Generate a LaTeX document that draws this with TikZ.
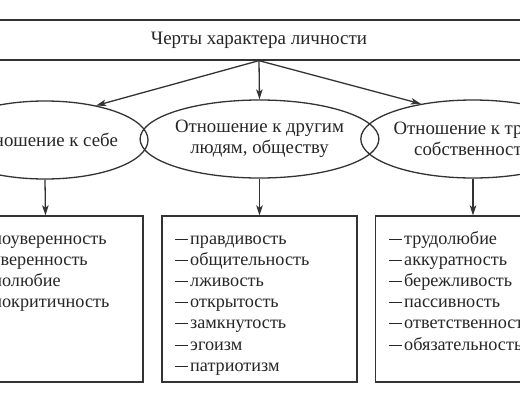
\documentclass[tikz,border=0pt]{standalone}
\usepackage{fontspec}
\setmainfont{Liberation Serif}
\usetikzlibrary{shapes.geometric,arrows.meta}
\definecolor{ink}{HTML}{333333}
\definecolor{txt}{HTML}{262626}
\newcommand\dsh{\rule[0.25em]{12.5pt}{0.9pt}\hspace{2.5pt}}
\tikzset{
  ln/.style={draw=ink, line width=1.3pt},
  arr/.style={ln, -{Stealth[length=10pt,width=6.5pt,inset=2.5pt]}},
  ell/.style={ln, ellipse, minimum width=196pt, minimum height=78pt, inner sep=0pt,
     align=center, font=\fontsize{18.8}{21}\selectfont, text=txt},
  boxx/.style={ln, rectangle, minimum width=195pt, minimum height=166pt, inner sep=0pt},
  item/.style={anchor=base west, inner sep=0pt, font=\fontsize{18.2}{20}\selectfont, text=txt},
}
\begin{document}
\begin{tikzpicture}[x=1pt,y=-1pt]
\useasboundingbox (0,0) rectangle (520,400);
\clip (0,0) rectangle (520,400);
\fill[white] (0,0) rectangle (520,400);
\node[ln, rectangle, minimum width=680pt, minimum height=40pt, inner sep=0pt,
      font=\fontsize{19}{22}\selectfont, text=txt] (top) at (259,40) {Черты характера личности};
\node[ell] (e1) at (45,140) {Отношение к себе};
\node[ell] (e2) at (259.5,139) {Отношение к другим\\людям, обществу};
\node[ell] (e3) at (473,139) {Отношение к труду,\\собственности};
\node[boxx] (b1) at (45.5,299) {};
\node[boxx] (b2) at (259.5,299) {};
\node[boxx] (b3) at (473,299) {};
\draw[arr] (top.south) -- (e1.34);
\draw[arr] (top.south) -- (e2.north);
\draw[arr] (top.south) -- (e3.146);
\draw[arr] (e1.south) -- (b1.north);
\draw[arr] (e2.south) -- (b2.north);
\draw[arr] (e3.south) -- (b3.north);
\foreach \t [count=\i] in {самоуверенность,неуверенность,самолюбие,самокритичность}
  \node[item] (l1-\i) at (-41,{244+21.2*(\i-1)}) {\dsh\t};
\foreach \t [count=\i] in {правдивость,общительность,лживость,открытость,замкнутость,эгоизм,патриотизм}
  \node[item] (l2-\i) at (175,{244+21.2*(\i-1)}) {\dsh\t};
\foreach \t [count=\i] in {трудолюбие,аккуратность,бережливость,пассивность,ответственность,обязательность}
  \node[item] (l3-\i) at (389,{244+21.2*(\i-1)}) {\dsh\t};
\end{tikzpicture}
\end{document}
